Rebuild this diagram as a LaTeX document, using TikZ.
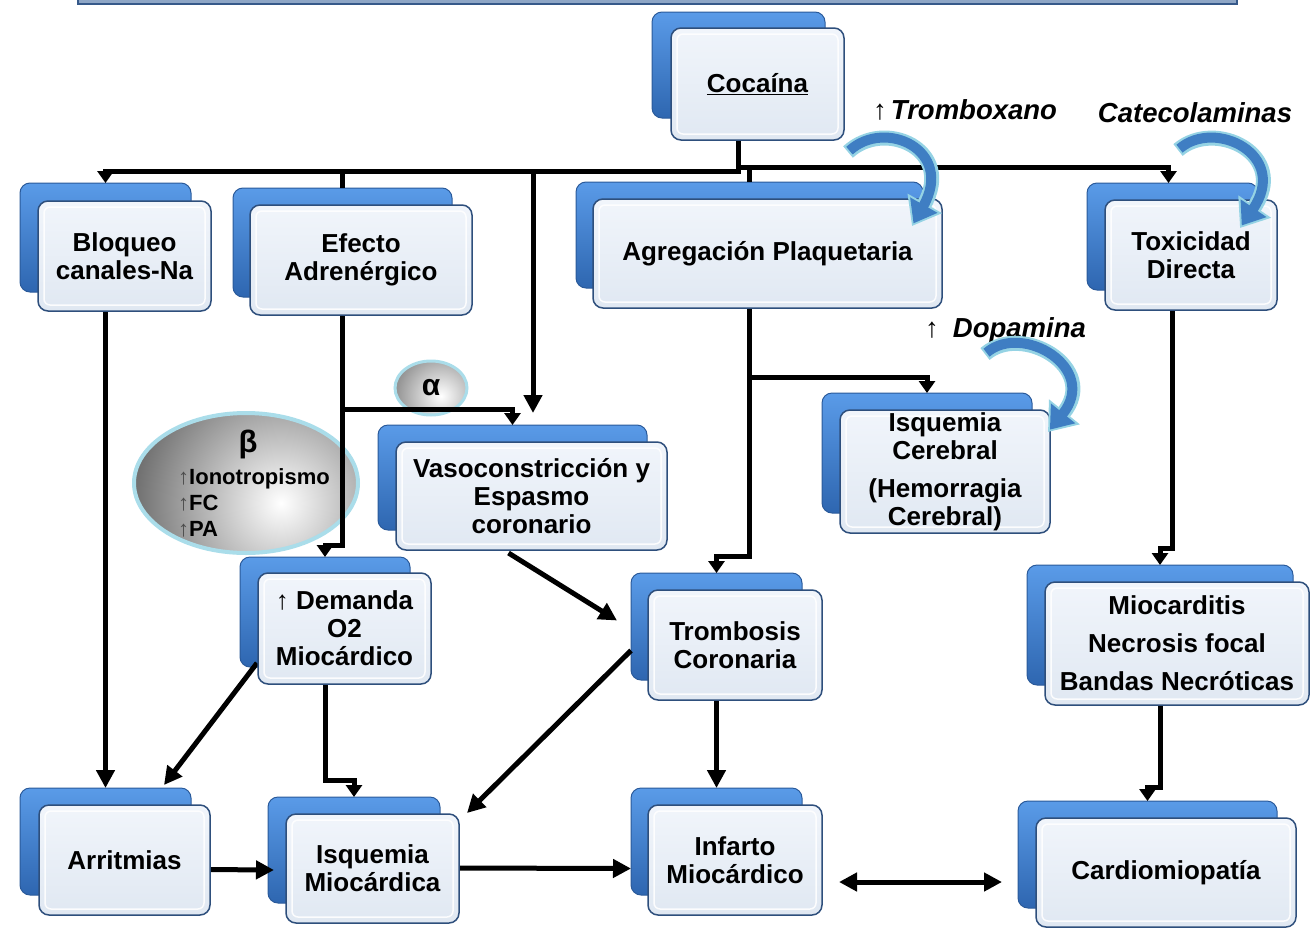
\documentclass[tikz,border=0pt]{standalone}
\usepackage{fontspec}
\setmainfont{Liberation Sans}
\usetikzlibrary{arrows.meta,calc,shapes.geometric}
\definecolor{bkTop}{HTML}{5A9BE8}
\definecolor{bkBot}{HTML}{2E66B0}
\definecolor{bkLine}{HTML}{2A5A9A}
\definecolor{frTop}{HTML}{F1F5FB}
\definecolor{frBot}{HTML}{E0E8F2}
\definecolor{frLine}{HTML}{2E4F7C}
\definecolor{cvBlue}{HTML}{3F7EC3}
\definecolor{cvLight}{HTML}{95D3E4}
\definecolor{ellLine}{HTML}{AADDEA}
\definecolor{barLine}{HTML}{36598A}
\definecolor{barFill}{HTML}{8EA6C6}
\begin{document}
\begin{tikzpicture}[x=1pt,y=-1pt,
  backbox/.style={rounded corners=10pt, draw=bkLine, line width=1pt, top color=bkTop, bottom color=bkBot, inner sep=0pt, outer sep=0pt},
  frontbox/.style={rounded corners=10pt, draw=frLine, line width=1.5pt, top color=frTop, bottom color=frBot, inner sep=0pt, outer sep=0pt, align=center, font=\bfseries\fontsize{26}{28}\selectfont,
    path picture={\draw[white, line width=1.5pt, rounded corners=6pt, opacity=0.9] ([shift={(6pt,6pt)}]path picture bounding box.south west) rectangle ([shift={(-6pt,-6pt)}]path picture bounding box.north east);}},
  conn/.style={line width=5pt, -{Triangle[length=18pt,width=18pt]}},
  elb/.style={line width=5pt, -{Triangle[length=12pt,width=16pt]}},
  plain/.style={line width=5pt},
  lab/.style={font=\bfseries\fontsize{27.5}{30}\selectfont, inner sep=0pt},
  cvout/.style={line width=15pt, draw=cvLight, -{Triangle[length=26pt,width=38pt]}},
  cvin/.style={line width=10pt, draw=cvBlue, shorten >=3pt, shorten <=2pt, -{Triangle[length=21pt,width=30pt]}},
  ell/.style={ellipse, draw=ellLine, inner sep=0pt, outer sep=0pt}
]
\useasboundingbox (0,0) rectangle (1311,929);
% top bar
\draw[draw=barLine, line width=1.5pt, fill=barFill] (78,-6) rectangle (1237,4);

% ellipses
\node[ell, line width=4pt, minimum width=224pt, minimum height=140pt,
  path picture={\shade[inner color=white, outer color=black!65] ([shift={(35pt,-20pt)}]path picture bounding box.center) circle [radius=170pt];}] (beta) at (246,483) {};
\node[ell, line width=3pt, minimum width=72pt, minimum height=54pt, font=\bfseries\fontsize{30}{30}\selectfont,
  path picture={\shade[inner color=white, outer color=black!65] ([shift={(10pt,-8pt)}]path picture bounding box.center) circle [radius=70pt];}] (alpha) at (431,388) {α};

% back boxes
\node[backbox, minimum width=173pt, minimum height=106pt] (coc) at (738.5,65) {};
\node[backbox, minimum width=171pt, minimum height=109pt] (bloq) at (105.5,237.5) {};
\node[backbox, minimum width=219pt, minimum height=109pt] (efec) at (342.5,242.5) {};
\node[backbox, minimum width=347pt, minimum height=106pt] (agre) at (749.5,235) {};
\node[backbox, minimum width=171pt, minimum height=107pt] (toxi) at (1172.5,236.5) {};
\node[backbox, minimum width=269pt, minimum height=105pt] (vaso) at (512.5,477.5) {};
\node[backbox, minimum width=210pt, minimum height=120pt] (isqc) at (927,453) {};
\node[backbox, minimum width=170pt, minimum height=110pt] (dema) at (325,612) {};
\node[backbox, minimum width=171pt, minimum height=107pt] (trom) at (716.5,626.5) {};
\node[backbox, minimum width=266pt, minimum height=120pt] (miocar) at (1160,625) {};
\node[backbox, minimum width=171pt, minimum height=107pt] (arri) at (105.5,841.5) {};
\node[backbox, minimum width=172pt, minimum height=106pt] (isqm) at (354,850) {};
\node[backbox, minimum width=171pt, minimum height=107pt] (infa) at (716.5,841.5) {};
\node[backbox, minimum width=259pt, minimum height=107pt] (card) at (1147.5,854.5) {};

% bus levels
\coordinate (busL) at (0,171);
\coordinate (busR) at (0,167);

% connectors
\draw[elb] (coc.south) |- (bloq.north |- busL) -- (bloq.north);
\draw[plain] (coc.south) |- (efec.north |- busL) -- (efec.north);
\draw[conn] (coc.south) |- ($(vaso.north |- busL)+(20.5,0)$) -- ($(vaso.north)+(20.5,-12)$);
\draw[plain] (coc.south) |- (agre.north |- busR) -- (agre.north);
\draw[elb] (coc.south) |- ($(toxi.north |- busR)+(-4,0)$) -- ($(toxi.north)+(-4,0)$);

\draw[elb] (efec.south) |- ($(dema.north)+(0,-12)$) -- (dema.north);
\draw[elb] ($(efec.south)+(0,112)$) -| (vaso.north);
\draw[elb] (agre.south) |- ($(trom.north)+(0,-17)$) -- (trom.north);
\draw[elb] ($(agre.south)+(0,89)$) -| (isqc.north);
\draw[elb] (toxi.south) |- ($(miocar.north)+(0,-17)$) -- (miocar.north);
\draw[elb] (miocar.south) |- ($(card.north)+(0,-14)$) -- (card.north);

\draw[conn] (bloq.south) -- (arri.north);
\draw[conn] ($(dema.south west)+(17,-4)$) -- ($(arri.north east)+(-27,-3)$);
\draw[elb] (dema.south) |- ($(isqm.north)+(0,-17)$) -- (isqm.north);
\draw[conn] ($(vaso.south)+(-4,23)$) -- ($(trom.west)+(-14,-6)$);
\draw[conn] ($(trom.west)+(0,24)$) -- ($(isqm.north east)+(27,16)$);
\draw[conn] (trom.south) -- (infa.north);
\draw[conn] ($(arri.east)+(14,28)$) -- ($(isqm.west)+(6,20)$);
\draw[conn] ($(isqm.east)+(12,18)$) -- ($(infa.west)+(0,27)$);
\draw[line width=5pt, {Triangle[length=18pt,width=18pt]}-{Triangle[length=18pt,width=18pt]}] ($(infa.east)+(37,40.5)$) -- ($(card.west)+(-16,27.5)$);

% front boxes
\node[frontbox, minimum width=173pt, minimum height=112pt] (cocF) at (757.5,84) {\underline{Cocaína}};
\node[frontbox, minimum width=173pt, minimum height=110pt] (bloqF) at (124.5,256) {Bloqueo\\canales-Na};
\node[frontbox, minimum width=222pt, minimum height=110pt] (efecF) at (361,260) {Efecto\\Adrenérgico};
\node[frontbox, minimum width=349pt, minimum height=109pt] (agreF) at (767.5,253.5) {Agregación Plaquetaria};
\node[frontbox, minimum width=172pt, minimum height=110pt] (toxiF) at (1191,255) {Toxicidad\\Directa};
\node[frontbox, minimum width=271pt, minimum height=108pt] (vasoF) at (531.5,496) {Vasoconstricción y\\Espasmo\\coronario};
\node[frontbox, minimum width=210pt, minimum height=123pt] (isqcF) at (945,471.5) {Isquemia\\Cerebral\\[10pt](Hemorragia\\Cerebral)};
\node[frontbox, minimum width=173pt, minimum height=111pt] (demaF) at (344.5,628.5) {{\mdseries ↑} Demanda\\O2\\Miocárdico};
\node[frontbox, minimum width=174pt, minimum height=110pt] (tromF) at (735,645) {Trombosis\\Coronaria};
\node[frontbox, minimum width=264pt, minimum height=123pt] (miocarF) at (1177,643.5) {Miocarditis\\[10pt]Necrosis focal\\[10pt]Bandas Necróticas};
\node[frontbox, minimum width=171pt, minimum height=110pt] (arriF) at (124.5,860) {Arritmias};
\node[frontbox, minimum width=173pt, minimum height=109pt] (isqmF) at (372.5,868.5) {Isquemia\\Miocárdica};
\node[frontbox, minimum width=174pt, minimum height=110pt] (infaF) at (735,860) {Infarto\\Miocárdico};
\node[frontbox, minimum width=260pt, minimum height=109pt] (cardF) at (1166,872.5) {Cardiomiopatía};

% beta texts
\node[font=\bfseries\fontsize{31}{31}\selectfont, inner sep=0pt] (betaT) at (248,444) {β};
\node[font=\bfseries\fontsize{22}{26}\selectfont, align=left, anchor=west, inner sep=0pt] (betaL) at (178,503) {{\mdseries\color{black!70}↑}Ionotropismo\\{\mdseries\color{black!70}↑}FC\\{\mdseries\color{black!70}↑}PA};

% labels
\node[lab, anchor=west] (tbx) at (873,110) {{\mdseries ↑}\hspace{4pt}\textit{Tromboxano}};
\node[lab] (cat) at (1195,113) {\textit{Catecolaminas}};
\node[lab, anchor=west] (dop) at (925,330) {{\mdseries ↑}\hspace{14pt}\textit{Dopamina}};

% curved arrows
\coordinate (tA) at (848,152); \coordinate (tB) at (912,226);
\coordinate (cA) at (1178,150); \coordinate (cB) at (1240,228);
\coordinate (dA) at (985,354); \coordinate (dB) at (1048,432);
\draw[cvout] (tA) .. controls (885,118) and (955,150) .. (tB);
\draw[cvin] (tA) .. controls (885,118) and (955,150) .. (tB);
\draw[cvout] (cA) .. controls (1215,118) and (1290,155) .. (cB);
\draw[cvin] (cA) .. controls (1215,118) and (1290,155) .. (cB);
\draw[cvout] (dA) .. controls (1022,322) and (1100,368) .. (dB);
\draw[cvin] (dA) .. controls (1022,322) and (1100,368) .. (dB);
\end{tikzpicture}
\end{document}
